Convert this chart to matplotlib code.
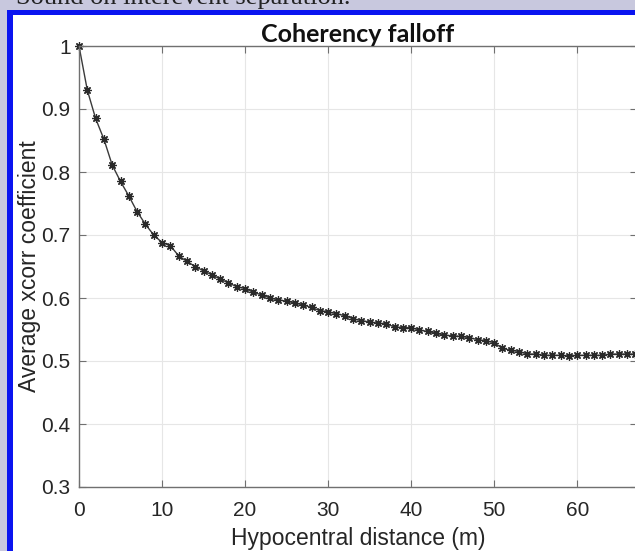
import matplotlib
matplotlib.use("Agg")
import matplotlib.pyplot as plt
from matplotlib.patches import Rectangle
import numpy as np

# average cross-correlation coefficient per 1 m distance bin
distance_m = np.arange(0, 68)
avg_xcorr = [
    1.000, 0.930, 0.885, 0.852, 0.811, 0.785, 0.762, 0.737, 0.717, 0.700,
    0.688, 0.683, 0.667, 0.658, 0.650, 0.643, 0.637, 0.630, 0.624, 0.618,
    0.615, 0.609, 0.605, 0.600, 0.597, 0.595, 0.592, 0.589, 0.585, 0.580,
    0.578, 0.575, 0.572, 0.567, 0.564, 0.562, 0.560, 0.559, 0.554, 0.553,
    0.553, 0.549, 0.547, 0.544, 0.541, 0.540, 0.539, 0.537, 0.534, 0.532,
    0.529, 0.520, 0.517, 0.515, 0.511, 0.511, 0.509, 0.509, 0.509, 0.508,
    0.509, 0.509, 0.509, 0.509, 0.511, 0.511, 0.511, 0.511,
]
x_ticks = [0, 10, 20, 30, 40, 50, 60]
y_ticks = [0.3, 0.4, 0.5, 0.6, 0.7, 0.8, 0.9, 1.0]
y_tick_labels = ["0.3", "0.4", "0.5", "0.6", "0.7", "0.8", "0.9", "1"]

W, H = 635, 551
fig = plt.figure(figsize=(W / 100, H / 100), dpi=100)
fig.patch.set_facecolor("#c8c8de")

# blue frame with white panel, kept behind the axes
fig.patches.append(Rectangle((7 / W, 0), 1, (H - 10) / H, transform=fig.transFigure,
                             facecolor="#0a14f0", edgecolor="none", zorder=-10))
fig.patches.append(Rectangle((13 / W, 0), 1, (H - 15) / H, transform=fig.transFigure,
                             facecolor="white", edgecolor="none", zorder=-9))

# caption line above the frame, mostly clipped
fig.text(16 / W, 1 - 4 / H, "Sound on interevent separation.", family="Liberation Serif",
         fontsize=19, color="#222222", va="baseline", ha="left")

ax = fig.add_axes([79 / W, 64 / H, 558 / W, 441 / H])
ax.set_facecolor("white")
ax.plot(distance_m, avg_xcorr, color="#3a3a3a", lw=1.0, marker=(8, 2, 0),
        markersize=6, markeredgecolor="#2a2a2a", markeredgewidth=0.9, clip_on=False)

ax.set_xlim(0, 67.2)
ax.set_ylim(0.3, 1.0)
ax.set_xticks(x_ticks)
ax.set_yticks(y_ticks)
ax.set_yticklabels(y_tick_labels)

ax.grid(True, color="#e6e6e6", lw=0.8)
ax.set_axisbelow(True)
for side in ax.spines.values():
    side.set_color("#707070")
    side.set_linewidth(1.0)

ax.tick_params(direction="in", length=5, width=0.8, color="#707070",
               top=True, right=True, labelcolor="#262626")
for lab in ax.get_xticklabels() + ax.get_yticklabels():
    lab.set_fontfamily("Liberation Sans")
    lab.set_fontsize(15)
ax.tick_params(axis="x", pad=10)
ax.tick_params(axis="y", pad=6)

ax.set_xlabel("Hypocentral distance (m)", family="Liberation Sans", fontsize=16.5,
              color="#262626", labelpad=5)
ax.set_ylabel("Average xcorr coefficient", family="Liberation Sans", fontsize=16.5,
              color="#262626", labelpad=0.5)
ax.set_title("Coherency falloff", family="Lato", fontweight="bold", fontsize=18,
             color="#111111", pad=3)

fig.savefig("out.png", dpi=100, facecolor=fig.get_facecolor())
